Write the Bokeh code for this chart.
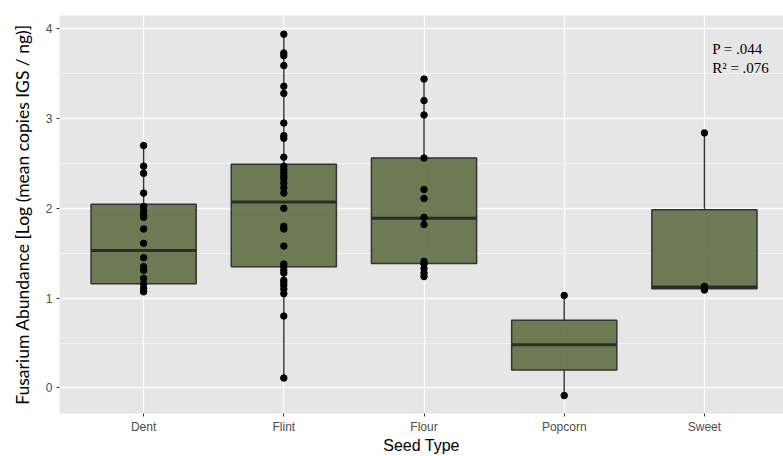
from bokeh.plotting import figure
from bokeh.models import Range1d, FixedTicker, Label, ColumnDataSource
from bokeh.embed import file_html
from bokeh.resources import INLINE

# ---- data ----
categories = ["Dent", "Flint", "Flour", "Popcorn", "Sweet"]
positions = [1, 2, 3, 4, 5]
q1 = [1.16, 1.35, 1.385, 0.20, 1.105]
median = [1.53, 2.07, 1.89, 0.48, 1.125]
q3 = [2.045, 2.49, 2.56, 0.755, 1.985]
whisker_low = [1.07, 0.11, 1.24, -0.085, 1.08]
whisker_high = [2.70, 3.94, 3.44, 1.03, 2.84]

dent_values = [2.70, 2.47, 2.39, 2.17, 2.02, 1.97, 1.93, 1.90, 1.77, 1.61, 1.45,
               1.35, 1.31, 1.22, 1.16, 1.11, 1.07]
flint_values = [3.94, 3.73, 3.70, 3.59, 3.36, 3.28, 2.95, 2.81, 2.78, 2.57, 2.47,
                2.43, 2.40, 2.36, 2.33, 2.28, 2.23, 2.17, 2.00, 1.80, 1.77, 1.58,
                1.38, 1.35, 1.31, 1.28, 1.20, 1.17, 1.14, 1.10, 1.05, 0.80, 0.11]
flour_values = [3.44, 3.20, 3.04, 2.56, 2.21, 2.11, 1.90, 1.82, 1.41, 1.38, 1.33,
                1.28, 1.24]
popcorn_values = [1.03, -0.085]
sweet_values = [2.84, 1.13, 1.11, 1.09]

y_ticks = [0, 1, 2, 3, 4]
y_minor = [0.5, 1.5, 2.5, 3.5]
stats_text = ["P = .044", "R\u00b2 = .076"]

# ---- build ----
box_width = 0.75
boxes = ColumnDataSource(dict(
    x=positions,
    left=[p - box_width / 2 for p in positions],
    right=[p + box_width / 2 for p in positions],
    q1=q1, q3=q3, med=median, lo=whisker_low, hi=whisker_high,
))

pts_x, pts_y = [], []
for pos, vals in zip(positions, [dent_values, flint_values, flour_values,
                                 popcorn_values, sweet_values]):
    pts_x += [pos] * len(vals)
    pts_y += vals

p = figure(width=783, height=456, output_backend="svg", toolbar_location=None,
           x_range=Range1d(0.4, 5.564), y_range=Range1d(-0.285, 4.148),
           min_border_left=59, min_border_right=0, min_border_top=15,
           min_border_bottom=43)

p.background_fill_color = "#E6E6E6"
p.border_fill_color = "white"
p.outline_line_color = None

# grids
p.xaxis.ticker = FixedTicker(ticks=positions)
p.yaxis.ticker = FixedTicker(ticks=y_ticks, minor_ticks=y_minor)
p.xgrid.grid_line_color = "white"
p.xgrid.grid_line_width = 1.3
p.ygrid.grid_line_color = "white"
p.ygrid.grid_line_width = 1.3
p.ygrid.minor_grid_line_color = "white"
p.ygrid.minor_grid_line_width = 0.6

# axes
for ax in (p.xaxis[0], p.yaxis[0]):
    ax.axis_line_color = None
    ax.major_tick_line_color = "#333333"
    ax.major_tick_in = 0
    ax.major_tick_out = 3
    ax.minor_tick_line_color = None
    ax.major_label_text_color = "#4D4D4D"
    ax.major_label_text_font = "Liberation Sans"
    ax.major_label_text_font_size = "12px"
    ax.major_label_standoff = 3
    ax.axis_label_text_font_style = "normal"
    ax.axis_label_text_color = "black"

p.xaxis.major_label_overrides = {pos: c for pos, c in zip(positions, categories)}
p.xaxis.axis_label = "Seed Type"
p.xaxis.axis_label_text_font = "Liberation Sans"
p.xaxis.axis_label_text_font_size = "16px"
p.xaxis.axis_label_standoff = 0

p.yaxis.axis_label = "Fusarium Abundance [Log (mean copies IGS / ng)]"
p.yaxis.axis_label_text_font = "Lato"
p.yaxis.axis_label_text_font_size = "17.5px"
p.yaxis.axis_label_standoff = 10

# whiskers
p.segment(x0="x", y0="q3", x1="x", y1="hi", source=boxes,
          line_color="#333333", line_width=1.4)
p.segment(x0="x", y0="lo", x1="x", y1="q1", source=boxes,
          line_color="#333333", line_width=1.4)
# boxes
p.quad(left="left", right="right", bottom="q1", top="q3", source=boxes,
       fill_color="#5B6A3E", fill_alpha=0.87, line_color="#333333",
       line_width=1.5)
# medians
p.segment(x0="left", y0="med", x1="right", y1="med", source=boxes,
          line_color="#2B2B2B", line_width=3)

# points
p.scatter(pts_x, pts_y, size=6.5, color="black")

# annotation
p.add_layout(Label(x=5.055, y=3.78, text=stats_text[0], text_font="Liberation Serif",
                   text_font_size="15px", text_baseline="middle", text_color="black"))
p.add_layout(Label(x=5.055, y=3.56, text=stats_text[1], text_font="Liberation Serif",
                   text_font_size="15px", text_baseline="middle", text_color="black"))

open("out.html", "w").write(file_html(p, INLINE))
